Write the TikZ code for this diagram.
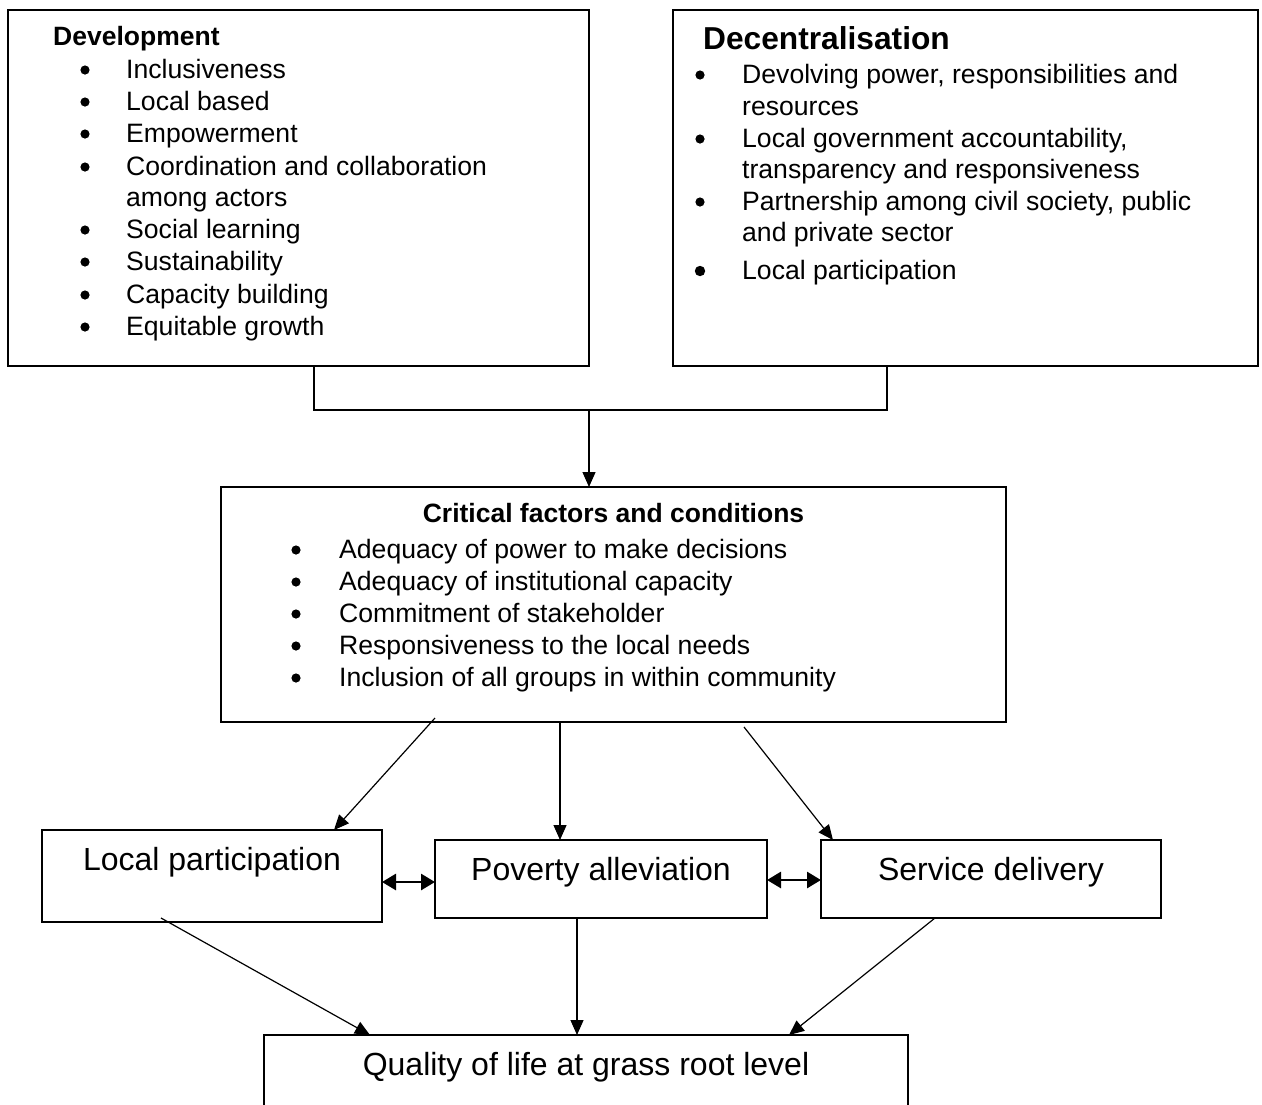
\documentclass[tikz,border=0pt]{standalone}
\usepackage{fontspec}
\setmainfont{Liberation Sans}
\usetikzlibrary{arrows.meta,calc}
\tikzset{
  box/.style={draw, line width=1.5pt, rectangle, inner sep=0pt, outer sep=0pt, anchor=north west},
  item/.style={inner sep=0pt, anchor=base west, font=\fontsize{26.6pt}{32pt}\selectfont},
  head/.style={inner sep=0pt, anchor=base west, font=\fontsize{26.5pt}{32pt}\selectfont\bfseries},
  bighead/.style={inner sep=0pt, anchor=base west, font=\fontsize{31.7pt}{38pt}\selectfont\bfseries},
  lbl/.style={inner sep=0pt, anchor=base, font=\fontsize{32pt}{38pt}\selectfont},
  conn/.style={line width=1.3pt},
  arr/.style={line width=1.2pt, -{Triangle[length=15pt,width=13pt]}},
  dbl/.style={line width=2.8pt, {Triangle[length=14pt,width=16pt]}-{Triangle[length=14pt,width=16pt]}},
  bul/.style={fill=black}
}
\begin{document}
\begin{tikzpicture}[x=1pt,y=-1pt]
\clip (0,0) rectangle (1262,1104);
\fill[white] (0,0) rectangle (1262,1104);

% boxes
\node[box, minimum width=581pt, minimum height=356pt] (dev) at (8,10) {};
\node[box, minimum width=585pt, minimum height=356pt] (dec) at (673,10) {};
\node[box, minimum width=785pt, minimum height=235pt] (crit) at (221,487) {};
\node[box, minimum width=340pt, minimum height=92pt] (lp) at (42,830) {};
\node[box, minimum width=332pt, minimum height=78pt] (pa) at (435,840) {};
\node[box, minimum width=340pt, minimum height=78pt] (sd) at (821,840) {};
\node[box, minimum width=644pt, minimum height=100pt] (q) at (264,1035) {};

% Development
\node[head] (devt) at (53,45) {Development};
\node[item] (d1) at (126,78) {Inclusiveness};
\node[item] (d2) at (126,110) {Local based};
\node[item] (d3) at (126,142) {Empowerment};
\node[item] (d4) at (126,175) {Coordination and collaboration};
\node[item] (d4b) at (126,206) {among actors};
\node[item] (d5) at (126,238) {Social learning};
\node[item] (d6) at (126,270) {Sustainability};
\node[item] (d7) at (126,303) {Capacity building};
\node[item] (d8) at (126,335) {Equitable growth};
\foreach \yy in {78,110,142,175,238,270,303,335}
  \fill[bul] (85,\yy-8) circle[radius=4.6pt];

% Decentralisation
\node[bighead] (dect) at (703,49) {Decentralisation};
\node[item] (c1) at (742,83) {Devolving power, responsibilities and};
\node[item] (c1b) at (742,115) {resources};
\node[item] (c2) at (742,147) {Local government accountability,};
\node[item] (c2b) at (742,178) {transparency and responsiveness};
\node[item] (c3) at (742,210) {Partnership among civil society, public};
\node[item] (c3b) at (742,241) {and private sector};
\node[item] (c4) at (742,279) {Local participation};
\foreach \yy in {83,147,210}
  \fill[bul] (700,\yy-8) circle[radius=4.6pt];
\fill[bul] (700,279-8) circle[radius=5.2pt];

% Critical factors
\node[head, anchor=base] (crt) at (613.5,522) {Critical factors and conditions};
\node[item] (k1) at (339,558) {Adequacy of power to make decisions};
\node[item] (k2) at (339,590) {Adequacy of institutional capacity};
\node[item] (k3) at (339,622) {Commitment of stakeholder};
\node[item] (k4) at (339,654) {Responsiveness to the local needs};
\node[item] (k5) at (339,686) {Inclusion of all groups in within community};
\foreach \yy in {558,590,622,654,686}
  \fill[bul] (296,\yy-8) circle[radius=4.6pt];

% labels
\node[lbl] (lpt) at (212,870) {Local participation};
\node[lbl] (pat) at (601,880) {Poverty alleviation};
\node[lbl] (sdt) at (991,880) {Service delivery};
\node[lbl] (qt) at (586,1075) {Quality of life at grass root level};

% top connector
\draw[conn] ([xshift=306pt]dev.south west) -- ++(0,44) -| ([xshift=214pt]dec.south west);
\draw[arr] ([yshift=-44pt]dev.south east) -- (crit.north -| dev.south east);

% critical to middle row
\draw[arr] ([xshift=214pt,yshift=4pt]crit.south west) -- ([xshift=-48pt]lp.north east);
\draw[arr] ([xshift=339pt]crit.south west) -- ([xshift=125pt]pa.north west);
\draw[arr] ([xshift=523pt,yshift=-5pt]crit.south west) -- ([xshift=12pt]sd.north west);

% double arrows
\draw[dbl] ([yshift=-6pt]lp.east) -- ([yshift=-3pt]pa.west);
\draw[dbl] ([yshift=-1pt]pa.east) -- ([yshift=-1pt]sd.west);

% to quality of life
\draw[arr] ([xshift=119pt,yshift=4pt]lp.south west) -- ([xshift=106pt]q.north west);
\draw[arr] ([xshift=142pt]pa.south west) -- ([xshift=313pt]q.north west);
\draw[arr] ([xshift=114pt]sd.south west) -- ([xshift=525pt]q.north west);
\end{tikzpicture}
\end{document}
